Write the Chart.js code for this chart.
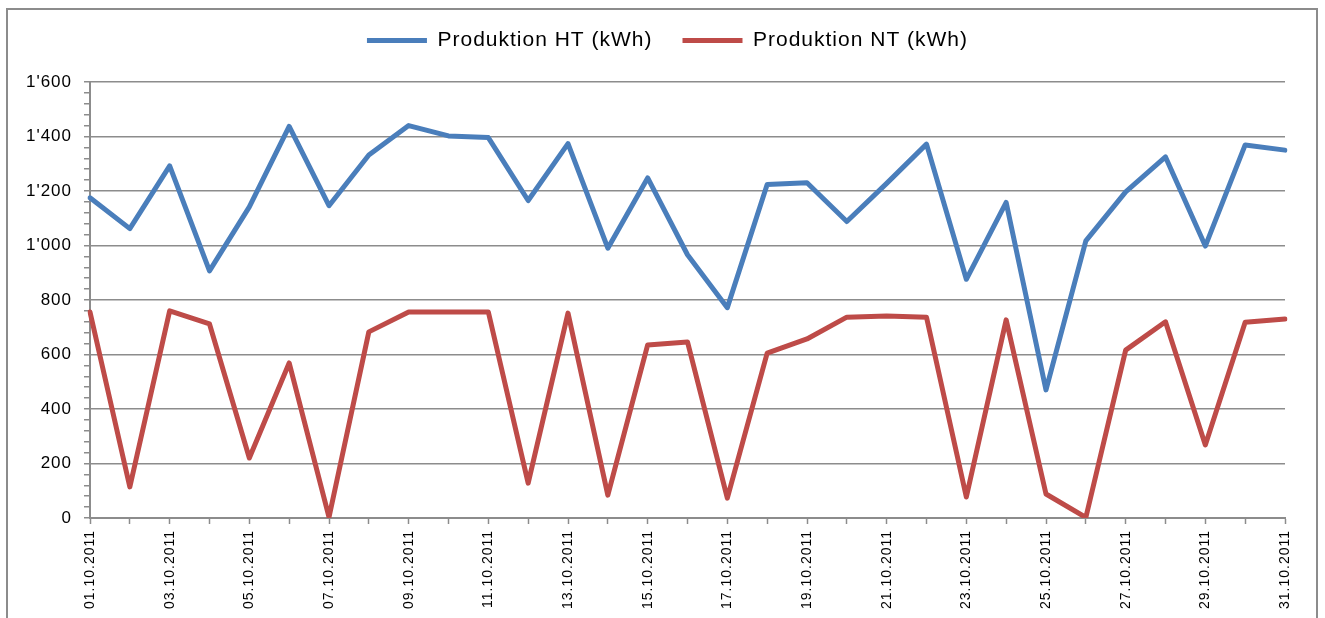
<!DOCTYPE html>
<html lang="de">
<head>
    <meta charset="UTF-8">
    <title>Produktion Oktober 2011</title>
    <script src="https://cdn.jsdelivr.net/npm/chart.js"></script>
    <style>
        body {
            margin: 0;
            width: 1325px;
            height: 618px;
            overflow: hidden;
            background: #fff;
            font-family: "Liberation Sans", Arial, sans-serif;
        }
        .frame {
            position: absolute;
            left: 6px;
            top: 8px;
            width: 1308px;
            height: 700px;
            border: 2px solid #8c8c8c;
        }
        .chart-box {
            position: absolute;
            left: 0;
            top: 0;
            width: 1325px;
            height: 618px;
        }
    </style>
</head>
<body>
    <div class="frame"></div>
    <div class="chart-box">
        <canvas id="prodChart"></canvas>
    </div>

    <script>
        const dates = [
            '01.10.2011', '02.10.2011', '03.10.2011', '04.10.2011', '05.10.2011',
            '06.10.2011', '07.10.2011', '08.10.2011', '09.10.2011', '10.10.2011',
            '11.10.2011', '12.10.2011', '13.10.2011', '14.10.2011', '15.10.2011',
            '16.10.2011', '17.10.2011', '18.10.2011', '19.10.2011', '20.10.2011',
            '21.10.2011', '22.10.2011', '23.10.2011', '24.10.2011', '25.10.2011',
            '26.10.2011', '27.10.2011', '28.10.2011', '29.10.2011', '30.10.2011',
            '31.10.2011'
        ];
        const htValues = [
            1175, 1062, 1292, 907, 1142, 1437, 1146, 1332, 1440, 1402,
            1396, 1165, 1374, 990, 1248, 966, 772, 1224, 1230, 1088,
            1228, 1372, 876, 1158, 470, 1017, 1197, 1325, 998, 1369,
            1350
        ];
        const ntValues = [
            756, 114, 760, 712, 220, 569, 3, 683, 756, 756,
            756, 128, 752, 84, 635, 646, 73, 605, 657, 737,
            741, 737, 77, 727, 88, 2, 616, 720, 268, 718,
            730
        ];
        const seriesLabels = ['Produktion HT (kWh)', 'Produktion NT (kWh)'];
        const yMin = 0;
        const yMax = 1600;
        const yMajorStep = 200;
        const yMinorStep = 40;

        const gridGray = '#8c8c8c';
        const fontFamily = '"Liberation Sans", Arial, sans-serif';

        // 1'600 style numbers
        function formatSwiss(v) {
            if (v >= 1000) {
                return Math.floor(v / 1000) + "'" + String(v % 1000).padStart(3, '0');
            }
            return String(v);
        }

        // Excel text looks slightly spaced
        const spacingPlugin = {
            id: 'spacing',
            beforeLayout(chart) { chart.ctx.letterSpacing = '1px'; },
            beforeDraw(chart) { chart.ctx.letterSpacing = '1px'; }
        };

        // legend takes the whole band above the plot, centred a bit right
        const legendPlace = {
            id: 'legendPlace',
            beforeInit(chart) {
                const origFit = chart.legend.fit;
                chart.legend.fit = function () {
                    origFit.bind(chart.legend)();
                    this.height = 82;
                };
            },
            afterLayout(chart) {
                const lg = chart.legend;
                lg.left = 50;
                lg.width = lg.right - lg.left;
            }
        };

        const ctx = document.getElementById('prodChart').getContext('2d');
        new Chart(ctx, {
            type: 'line',
            data: {
                labels: dates,
                datasets: [{
                    label: seriesLabels[0],
                    data: htValues,
                    borderColor: '#4a7ebb',
                    backgroundColor: '#4a7ebb',
                    borderWidth: 5,
                    borderCapStyle: 'round',
                    borderJoinStyle: 'round',
                    pointRadius: 0,
                    tension: 0
                }, {
                    label: seriesLabels[1],
                    data: ntValues,
                    borderColor: '#be4b48',
                    backgroundColor: '#be4b48',
                    borderWidth: 5,
                    borderCapStyle: 'round',
                    borderJoinStyle: 'round',
                    pointRadius: 0,
                    tension: 0
                }]
            },
            options: {
                responsive: true,
                maintainAspectRatio: false,
                animation: false,
                layout: {
                    padding: { top: 0, right: 40, bottom: 0, left: 0 }
                },
                plugins: {
                    legend: {
                        position: 'top',
                        labels: {
                            usePointStyle: true,
                            pointStyle: 'line',
                            pointStyleWidth: 60,
                            padding: 30,
                            color: '#000',
                            font: { family: fontFamily, size: 21 }
                        }
                    },
                    tooltip: { enabled: false }
                },
                scales: {
                    x: {
                        afterFit(scale) { scale.height = 100; },
                        grid: {
                            drawOnChartArea: false,
                            drawTicks: true,
                            tickLength: 6,
                            tickColor: gridGray,
                            tickWidth: 1.5
                        },
                        border: { color: gridGray, width: 2 },
                        ticks: {
                            autoSkip: false,
                            maxRotation: 90,
                            minRotation: 90,
                            padding: 6,
                            color: '#000',
                            font: { family: fontFamily, size: 14 },
                            callback: (val, i) => (i % 2 === 0 ? dates[i] : '')
                        }
                    },
                    y: {
                        min: yMin,
                        max: yMax,
                        afterFit(scale) { scale.width = 90; },
                        grid: {
                            color: c => (c.tick && c.tick.value % yMajorStep === 0 ? gridGray : 'rgba(0,0,0,0)'),
                            lineWidth: 1.5,
                            tickLength: 6,
                            tickColor: gridGray,
                            tickWidth: 1.5
                        },
                        border: { color: gridGray, width: 2 },
                        ticks: {
                            stepSize: yMinorStep,
                            maxTicksLimit: 60,
                            autoSkip: false,
                            padding: 12,
                            color: '#000',
                            font: { family: fontFamily, size: 17 },
                            callback: v => (v % yMajorStep === 0 ? formatSwiss(v) : '')
                        }
                    }
                }
            },
            plugins: [spacingPlugin, legendPlace]
        });
    </script>
</body>
</html>
